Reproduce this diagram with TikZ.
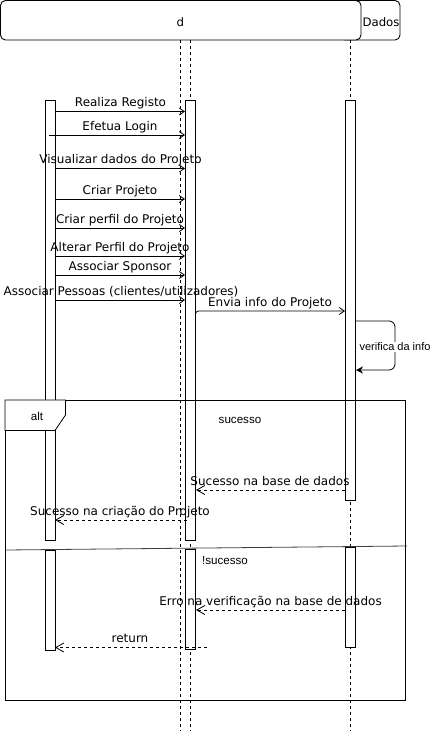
\documentclass[tikz,border=0pt]{standalone}
\usepackage{fontspec}
\usetikzlibrary{arrows.meta}
\newfontfamily\dvfont{DejaVu Sans}
\newfontfamily\lsfont{Liberation Sans}
\begin{document}
\begin{tikzpicture}[x=1pt,y=-1pt,line width=0.9pt,
  lifeline/.style={line width=0.8pt,dash pattern=on 3pt off 3pt},
  actbox/.style={draw,fill=white,minimum width=10pt,inner sep=0pt,outer sep=0pt},
  msg/.style={-{Straight Barb[length=5pt,width=7pt,line width=0.8pt]},line width=0.8pt},
  ret/.style={-{Straight Barb[length=8pt,width=9pt,line width=0.8pt]},line width=0.8pt,dash pattern=on 3pt off 3pt},
  mlabel/.style={font=\dvfont\fontsize{12}{14}\selectfont,anchor=base,inner sep=0pt},
  slabel/.style={font=\lsfont\fontsize{11.6}{13}\selectfont,inner sep=0pt},
  hdr/.style={draw,rounded corners=5pt,inner sep=0pt,fill=white}]
\useasboundingbox (0,0) rectangle (431,731);
% header
\node[hdr,minimum width=60pt,minimum height=39.5pt] (hdados) at (370,20.25) {};
\node[font=\dvfont\fontsize{11.7}{13}\selectfont,inner sep=0pt] (tdados) at (381,21.7) {Dados};
\node[hdr,minimum width=360.5pt,minimum height=39.5pt] (hd) at (180.75,20.25) {};
\node[font=\dvfont\fontsize{11.7}{13}\selectfont,inner sep=0pt] (td) at (180.3,21.7) {d};
% lifelines
\coordinate (l1t) at (180.3,40); \coordinate (l1b) at (180.3,731);
\coordinate (l2t) at (190.3,40); \coordinate (l2b) at (190.3,731);
\coordinate (l3t) at (350.3,40); \coordinate (l3b) at (350.3,731);
\draw[lifeline] (l1t) -- (l1b);
\draw[lifeline] (l2t) -- (l2b);
\draw[lifeline] (l3t) -- (l3b);
% activation boxes
\node[actbox,minimum height=440pt] (aL1) at (50,320) {};
\node[actbox,minimum height=440pt] (aM1) at (190,320) {};
\node[actbox,minimum height=400pt] (aR1) at (350,300) {};
\node[actbox,minimum height=100pt] (aL2) at (50,600) {};
\node[actbox,minimum height=100pt] (aM2) at (190,599) {};
\node[actbox,minimum height=100pt] (aR2) at (350,597) {};
% calls
\coordinate (m1s) at (55,111.5);  \coordinate (m1e) at (185,111.5);
\coordinate (m2s) at (49,135);    \coordinate (m2e) at (185,135);
\coordinate (m3s) at (55,168.5);  \coordinate (m3e) at (185,168.5);
\coordinate (m4s) at (55,199);    \coordinate (m4e) at (185,199);
\coordinate (m5s) at (55,228);    \coordinate (m5e) at (185,228);
\coordinate (m6s) at (55,256);    \coordinate (m6e) at (185,256);
\coordinate (m7s) at (55,275);    \coordinate (m7e) at (185,275);
\coordinate (m8s) at (55,300);    \coordinate (m8e) at (185,300);
\draw[msg] (m1s) -- (m1e);
\draw[msg] (m2s) -- (m2e);
\draw[msg] (m3s) -- (m3e);
\draw[msg] (m4s) -- (m4e);
\draw[msg] (m5s) -- (m5e);
\draw[msg] (m6s) -- (m6e);
\draw[msg] (m7s) -- (m7e);
\draw[msg] (m8s) -- (m8e);
\node[mlabel] (t1) at (120.5,106.5) {Realiza Registo};
\node[mlabel] (t2) at (120,130) {Efetua Login};
\node[mlabel] (t3) at (120.5,163.5) {Visualizar dados do Projeto};
\node[mlabel] (t4) at (120,194) {Criar Projeto};
\node[mlabel] (t5) at (120,223) {Criar perfil do Projeto};
\node[mlabel] (t6) at (120,251) {Alterar Perfil do Projeto};
\node[mlabel] (t7) at (120,270) {Associar Sponsor};
\node[mlabel] (t8) at (121,295) {Associar Pessoas (clientes/utilizadores)};
% envia info
\coordinate (e0) at (195.5,315); \coordinate (e1) at (195.5,311); \coordinate (e2) at (345,311);
\draw[msg,rounded corners=3pt] (e0) -- (e1) -- (e2);
\node[mlabel] (te) at (270,306) {Envia info do Projeto};
% self message
\coordinate (s0) at (355,321); \coordinate (s1) at (395,321);
\coordinate (s2) at (395,370); \coordinate (s3) at (356,370);
\draw[-{Stealth[length=7pt,width=7pt]},line width=0.8pt,rounded corners=6pt] (s0) -- (s1) -- (s2) -- (s3);
\node[font=\lsfont\fontsize{11}{13}\selectfont,fill=white,inner sep=1pt] (ts) at (395,346.7) {verifica da info};
% alt frame
\coordinate (f0) at (5,400); \coordinate (f1) at (405.5,700);
\draw[line width=0.8pt] (f0) rectangle (f1);
\coordinate (p1) at (65.5,400); \coordinate (p2) at (65.5,415);
\coordinate (p3) at (55,430.5); \coordinate (p4) at (5,430.5);
\draw[line width=0.8pt,fill=white] (f0) -- (p1) -- (p2) -- (p3) -- (p4) -- cycle;
\node[slabel] (talt) at (37,416.7) {alt};
\node[slabel] (tsuc) at (240,420.7) {sucesso};
% returns in first operand
\coordinate (r1s) at (345,490); \coordinate (r1e) at (196,490);
\coordinate (r2s) at (186.5,520); \coordinate (r2e) at (55,520);
\draw[ret] (r1s) -- (r1e);
\draw[ret] (r2s) -- (r2e);
\node[mlabel] (tr1) at (270,485.5) {Sucesso na base de dados};
\node[mlabel] (tr2) at (120,515.5) {Sucesso na criação do Projeto};
% divider
\coordinate (d0) at (5,550); \coordinate (d1) at (407,546);
\draw[line width=0.8pt,black!75] (d0) -- (d1);
\node[slabel] (tnsuc) at (225,560.7) {!sucesso};
% second operand
\coordinate (r3s) at (345,610); \coordinate (r3e) at (196,610);
\coordinate (r4s) at (206.5,647.5); \coordinate (r4e) at (55,647.5);
\draw[ret] (r3s) -- (r3e);
\draw[ret] (r4s) -- (r4e);
\node[mlabel] (tr3) at (270.5,605.5) {Erro na verificação na base de dados};
\node[mlabel] (tr4) at (130,642.5) {return};
\end{tikzpicture}
\end{document}
